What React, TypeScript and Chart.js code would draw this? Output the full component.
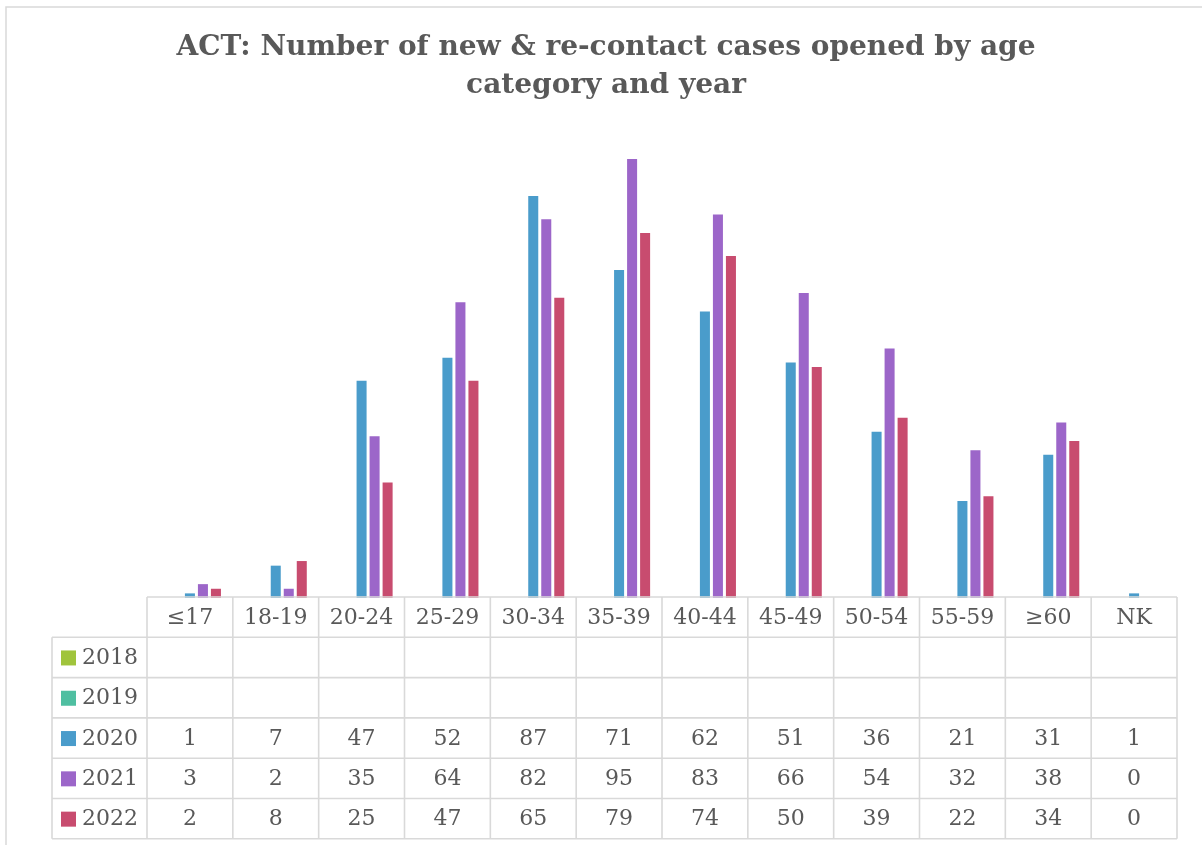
import React, { useEffect, useRef } from "react";
import { Chart, registerables } from "chart.js";

Chart.register(...registerables);

const categories = ["≤17", "18-19", "20-24", "25-29", "30-34", "35-39", "40-44", "45-49", "50-54", "55-59", "≥60", "NK"];
const years = ["2018", "2019", "2020", "2021", "2022"];
const values2018 = [null, null, null, null, null, null, null, null, null, null, null, null];
const values2019 = [null, null, null, null, null, null, null, null, null, null, null, null];
const values2020 = [1, 7, 47, 52, 87, 71, 62, 51, 36, 21, 31, 1];
const values2021 = [3, 2, 35, 64, 82, 95, 83, 66, 54, 32, 38, 0];
const values2022 = [2, 8, 25, 47, 65, 79, 74, 50, 39, 22, 34, 0];
const colors = ["#A0C43C", "#4FBFA1", "#4A9CCB", "#9C66C9", "#C84C6F"];
const titleLines = ["ACT: Number of new & re-contact cases opened by age", "category and year"];

const TEXT = "#595959";
const GRID = "#d9d9d9";
const FONT_TABLE = "22px 'DejaVu Serif'";
const FONT_TITLE = "bold 28px 'DejaVu Serif'";

const framePlugin = {
  id: "frame",
  beforeDraw(chart: any) {
    const ctx = chart.ctx;
    ctx.save();
    ctx.fillStyle = "#ffffff";
    ctx.fillRect(0, 0, chart.width, chart.height);
    ctx.strokeStyle = GRID;
    ctx.lineWidth = 1.5;
    ctx.beginPath();
    ctx.moveTo(6, chart.height + 5);
    ctx.lineTo(6, 7);
    ctx.lineTo(chart.width + 5, 7);
    ctx.stroke();
    ctx.fillStyle = TEXT;
    ctx.font = FONT_TITLE;
    ctx.textAlign = "center";
    ctx.textBaseline = "middle";
    titleLines.forEach((line, i) => {
      ctx.fillText(line, 606, 48 + i * 38);
    });
    ctx.restore();
  },
};

const tablePlugin = {
  id: "dataTable",
  afterDraw(chart: any) {
    const ctx = chart.ctx;
    const xs = chart.scales.x;
    const { left, right, bottom } = chart.chartArea;
    const n = categories.length;
    const w = (right - left) / n;
    const rowH = 40.3;
    const top = bottom - 1;
    const labelLeft = 52;
    const rows = chart.data.datasets.length;
    const tableBottom = top + rowH * (rows + 1);
    ctx.save();
    ctx.strokeStyle = GRID;
    ctx.lineWidth = 1.6;
    ctx.beginPath();
    ctx.moveTo(left, top);
    ctx.lineTo(right, top);
    for (let r = 1; r <= rows + 1; r++) {
      const y = top + rowH * r;
      ctx.moveTo(labelLeft, y);
      ctx.lineTo(right, y);
    }
    ctx.moveTo(labelLeft, top + rowH);
    ctx.lineTo(labelLeft, tableBottom);
    for (let i = 0; i <= n; i++) {
      const x = left + w * i;
      ctx.moveTo(x, top);
      ctx.lineTo(x, tableBottom);
    }
    ctx.stroke();

    ctx.fillStyle = TEXT;
    ctx.font = FONT_TABLE;
    ctx.textAlign = "center";
    ctx.textBaseline = "middle";
    categories.forEach((c, i) => {
      const cx = xs.getPixelForValue(i);
      ctx.fillText(c, cx, top + rowH / 2 + 1);
    });
    chart.data.datasets.forEach((ds: any, r: number) => {
      const cy = top + rowH * (r + 1) + rowH / 2 + 1;
      ctx.fillStyle = ds.backgroundColor;
      ctx.fillRect(61, cy - 8, 15, 15);
      ctx.fillStyle = TEXT;
      ctx.textAlign = "left";
      ctx.fillText(ds.label, 82, cy);
      ctx.textAlign = "center";
      ds.data.forEach((v: any, i: number) => {
        if (v === null || v === undefined) return;
        ctx.fillText(String(v), xs.getPixelForValue(i), cy);
      });
    });
    ctx.restore();
  },
};

export default function App() {
  const ref = useRef<HTMLCanvasElement | null>(null);
  useEffect(() => {
    document.body.style.margin = "0";
    const seriesValues = [values2018, values2019, values2020, values2021, values2022];
    const chart = new Chart(ref.current as HTMLCanvasElement, {
      type: "bar",
      data: {
        labels: categories,
        datasets: years.map((y, i) => ({
          label: y,
          data: seriesValues[i],
          backgroundColor: colors[i],
          borderWidth: 0,
          categoryPercentage: 0.758,
          barPercentage: 0.77,
        })),
      },
      options: {
        responsive: false,
        animation: false,
        devicePixelRatio: 1,
        layout: { padding: { top: 136, left: 147, right: 25, bottom: 247 } },
        plugins: {
          legend: { display: false },
          tooltip: { enabled: false },
          title: { display: false },
        },
        scales: {
          x: { display: false, offset: true, grid: { display: false } },
          y: { display: false, min: 0, max: 100 },
        },
      },
      plugins: [framePlugin, tablePlugin],
    } as any);
    return () => chart.destroy();
  }, []);
  return <canvas ref={ref} width={1202} height={845} style={{ display: "block" }} />;
}
